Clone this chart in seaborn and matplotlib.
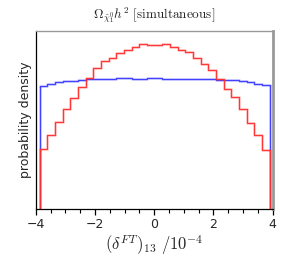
import numpy as np
import pandas as pd
import matplotlib
matplotlib.use("Agg")
import matplotlib.pyplot as plt
from matplotlib.ticker import MultipleLocator
import seaborn as sns

# binned densities (30 shared bins)
bin_lo, bin_hi, n_bins = -3.87, 3.90, 30
red_density = [0.060, 0.074, 0.087, 0.100, 0.111, 0.122, 0.131, 0.141, 0.149, 0.152,
               0.157, 0.160, 0.163, 0.166, 0.165, 0.165, 0.166, 0.163, 0.160, 0.158,
               0.152, 0.146, 0.139, 0.130, 0.120, 0.112, 0.100, 0.086, 0.074, 0.059]
blue_density = [0.123, 0.125, 0.127, 0.128, 0.128, 0.129, 0.130, 0.130, 0.130, 0.130,
                0.131, 0.131, 0.130, 0.130, 0.131, 0.131, 0.130, 0.130, 0.130, 0.130,
                0.130, 0.130, 0.130, 0.129, 0.129, 0.129, 0.128, 0.127, 0.125, 0.124]
x_ticks = [-4, -2, 0, 2, 4]

edges = np.linspace(bin_lo, bin_hi, n_bins + 1)
centers = 0.5 * (edges[:-1] + edges[1:])
df = pd.DataFrame({"x": np.concatenate([centers, centers]),
                   "w": np.concatenate([blue_density, red_density]),
                   "run": ["blue"] * n_bins + ["red"] * n_bins})

sns.set_style("white")
plt.rcParams["mathtext.fontset"] = "cm"

fig = plt.figure(figsize=(2.96, 2.61), dpi=100)
ax = fig.add_axes([0.1206, 0.2004, 0.8007, 0.6820])

# light halo under each line, then the thin line itself
for name, col in [("blue", "#3a3aff"), ("red", "#ff3030")]:
    sub = df[df["run"] == name]
    dens = sub["w"].to_numpy()
    for lw, a in [(1.9, 0.3), (0.8, 0.95)]:
        sns.histplot(data=sub, x="x", weights="w", bins=n_bins, binrange=(bin_lo, bin_hi),
                     element="step", fill=False, color=col, alpha=a, linewidth=lw, ax=ax)
        # outer edges drop down to zero like a matplotlib step histogram
        ax.vlines([bin_lo, bin_hi], 0, [dens[0], dens[-1]], color=col, alpha=a, linewidth=lw)

ax.set_xlim(-4, 4)
ax.set_ylim(0, 0.179)
ax.set_yticks([])
ax.set_xticks(x_ticks)
ax.xaxis.set_minor_locator(MultipleLocator(0.5))
ax.tick_params(axis="x", which="major", direction="out", length=4.5, width=0.9,
               color="black", labelsize=9, pad=2, bottom=True)
ax.tick_params(axis="x", which="minor", direction="out", length=3, width=0.8,
               color="black", bottom=True)
ax.set_xticklabels([str(t).replace("-", "\u2212") for t in x_ticks])

for s in ["left", "bottom"]:
    ax.spines[s].set_color("black")
    ax.spines[s].set_linewidth(0.9)
ax.spines["top"].set_color("#999999")
ax.spines["top"].set_linewidth(1.0)
ax.spines["right"].set_color("#999999")
ax.spines["right"].set_linewidth(2.0)

ax.set_title(r"$\Omega_{\tilde{\chi}_1^0}h^2\ \mathrm{[simultaneous]}$", fontsize=9.5, pad=9)
ax.set_xlabel(r"$(\delta^{FT})_{13}\ /10^{-4}$", fontsize=12, labelpad=2)
ax.set_ylabel("probability density", fontsize=9, labelpad=3)

fig.savefig("out.png", dpi=100)
